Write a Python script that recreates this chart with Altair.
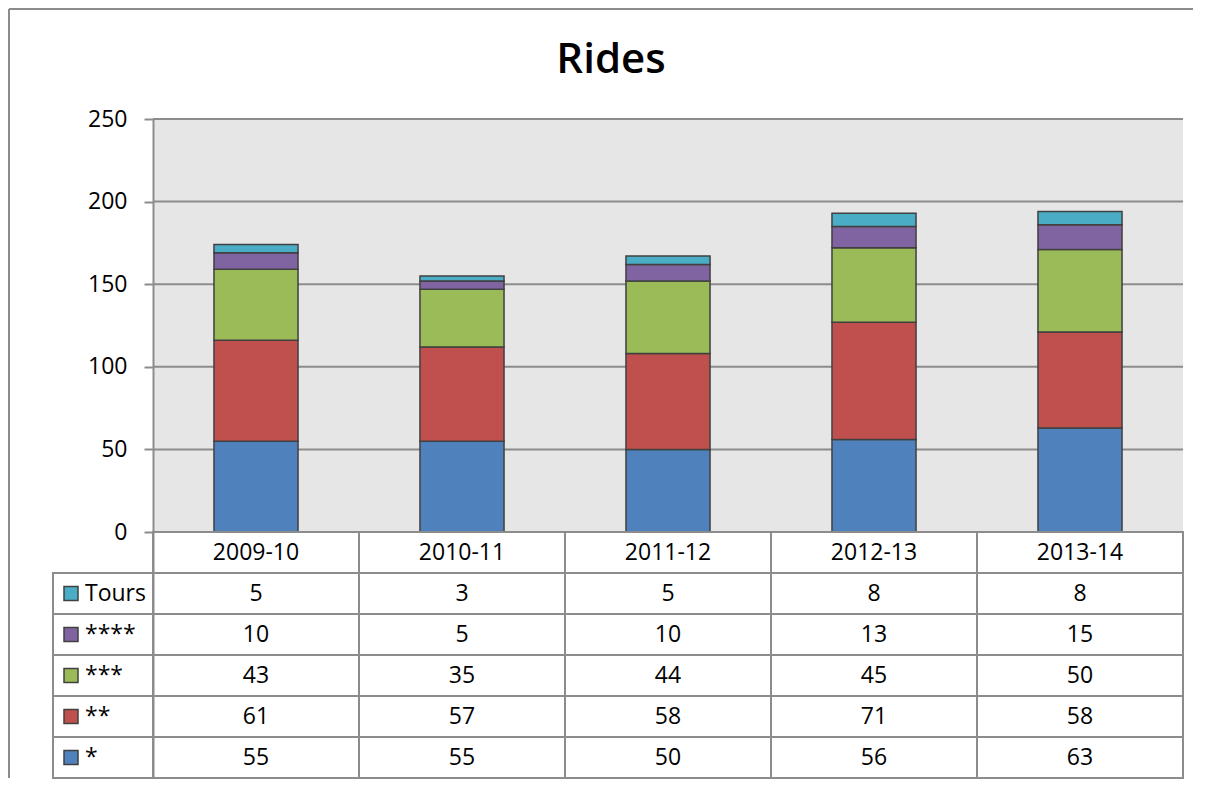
import altair as alt
import pandas as pd

# ---------------- data ----------------
seasons = ["2009-10", "2010-11", "2011-12", "2012-13", "2013-14"]
series = ["*", "**", "***", "****", "Tours"]          # bottom -> top of stack
colors = ["#4F81BD", "#C0504D", "#9BBB59", "#8064A2", "#4BACC6"]
v_star1 = [55, 55, 50, 56, 63]
v_star2 = [61, 57, 58, 71, 58]
v_star3 = [43, 35, 44, 45, 50]
v_star4 = [10, 5, 10, 13, 15]
v_tours = [5, 3, 5, 8, 8]
y_ticks = [0, 50, 100, 150, 200, 250]
title_text = ["Rides"]
values_by_series = [v_star1, v_star2, v_star3, v_star4, v_tours]

# ---------------- geometry (pixels) ----------------
BAND_PX = 206
LEG_PX = 100
W = LEG_PX + BAND_PX * len(seasons)
CHART_PX = 413
ROW_PX = 41
N_ROWS = len(series) + 1
H = CHART_PX + ROW_PX * N_ROWS
YMAX = 250
upp = YMAX / CHART_PX                # data units per pixel (y)
row_u = ROW_PX * upp
y_min = -ROW_PX * N_ROWS * upp
x_min = -0.5 - LEG_PX / BAND_PX
x_max = len(seasons) - 0.5
BAR_HALF = 0.204

FONT = "Open Sans"
GRID = "#8C8C8C"

# ---------------- tables ----------------
rows = []
for si, (s, vals) in enumerate(zip(series, values_by_series)):
    for i, (season, v) in enumerate(zip(seasons, vals)):
        rows.append({"season": season, "idx": i, "series": s, "order": si, "value": v})
df = pd.DataFrame(rows)

xs = alt.Scale(domain=[x_min, x_max], nice=False, zero=False)
ys = alt.Scale(domain=[y_min, YMAX], nice=False, zero=False)
color_scale = alt.Scale(domain=series, range=colors)

# background of the plot area
bg = alt.Chart(pd.DataFrame({"x": [-0.5], "x2": [x_max], "y": [0], "y2": [YMAX]})).mark_rect(
    color="#E6E6E6"
).encode(
    x=alt.X("x:Q", scale=xs, axis=None),
    x2="x2:Q",
    y=alt.Y("y:Q", scale=ys, axis=alt.Axis(
        values=y_ticks, offset=-LEG_PX, grid=False, title=None,
        domainColor=GRID, domainWidth=2, tickColor=GRID, tickWidth=2, tickSize=9,
        labelFont=FONT, labelFontSize=23, labelColor="black", labelPadding=17, zindex=1)),
    y2="y2:Q",
)

grid = alt.Chart(pd.DataFrame({"y": y_ticks})).mark_rule(color=GRID, strokeWidth=2).encode(
    x=alt.datum(-0.5, scale=xs), x2=alt.datum(x_max), y=alt.Y("y:Q", scale=ys)
)

bars = alt.Chart(df).transform_stack(
    stack="value", groupby=["season"], as_=["y0", "y1"], sort=[{"field": "order"}]
).transform_calculate(
    xl=f"datum.idx - {BAR_HALF}", xr=f"datum.idx + {BAR_HALF}"
).mark_rect(stroke="#404040", strokeWidth=1.5).encode(
    x=alt.X("xl:Q", scale=xs),
    x2="xr:Q",
    y=alt.Y("y0:Q", scale=ys),
    y2="y1:Q",
    color=alt.Color("series:N", scale=color_scale, legend=None),
)

# table rows: row 0 = header, rows 1..5 = Tours ... *
table_rows = list(reversed(series))
cells = []
for i, season in enumerate(seasons):
    cells.append({"x": i - 0.5, "x2": i + 0.5, "y": 0, "y2": -row_u,
                  "yc": -0.5 * row_u, "xc": i, "label": season})
    for r, s in enumerate(table_rows, start=1):
        v = values_by_series[series.index(s)][i]
        cells.append({"x": i - 0.5, "x2": i + 0.5, "y": -r * row_u, "y2": -(r + 1) * row_u,
                      "yc": -(r + 0.5) * row_u, "xc": i, "label": str(v)})
cells_df = pd.DataFrame(cells)

leg = []
for r, s in enumerate(table_rows, start=1):
    leg.append({"x": x_min, "x2": -0.5, "y": -r * row_u, "y2": -(r + 1) * row_u,
                "yc": -(r + 0.5) * row_u, "sx": x_min + 18 / BAND_PX,
                "tx": x_min + 32 / BAND_PX, "series": s})
leg_df = pd.DataFrame(leg)

cell_rects = alt.Chart(cells_df).mark_rect(fill="white", stroke=GRID, strokeWidth=2).encode(
    x=alt.X("x:Q", scale=xs), x2="x2:Q", y=alt.Y("y:Q", scale=ys), y2="y2:Q"
)
cell_text = alt.Chart(cells_df).mark_text(
    font=FONT, fontSize=23, color="black", baseline="middle", align="center"
).encode(x=alt.X("xc:Q", scale=xs), y=alt.Y("yc:Q", scale=ys), text="label:N")

leg_rects = alt.Chart(leg_df).mark_rect(fill="white", stroke=GRID, strokeWidth=2).encode(
    x=alt.X("x:Q", scale=xs), x2="x2:Q", y=alt.Y("y:Q", scale=ys), y2="y2:Q"
)
leg_sw = alt.Chart(leg_df).mark_point(
    shape="square", filled=True, size=196, stroke="#404040", strokeWidth=1.5, opacity=1
).encode(
    x=alt.X("sx:Q", scale=xs), y=alt.Y("yc:Q", scale=ys),
    fill=alt.Fill("series:N", scale=color_scale, legend=None),
)
leg_text = alt.Chart(leg_df).mark_text(
    font=FONT, fontSize=23, color="black", baseline="middle", align="left"
).encode(x=alt.X("tx:Q", scale=xs), y=alt.Y("yc:Q", scale=ys), text="series:N")

frame_left = alt.Chart(pd.DataFrame({"a": [0]})).mark_rule(color="#8C8C8C", strokeWidth=2).encode(
    x=alt.value(-44), y=alt.value(-110), y2=alt.value(H)
)
frame_top = alt.Chart(pd.DataFrame({"a": [0]})).mark_rule(color="#8C8C8C", strokeWidth=2).encode(
    x=alt.value(-44), x2=alt.value(1140), y=alt.value(-110)
)

# chart title, centred on the outer frame, baseline 46 px above the plot top
title = alt.Chart(pd.DataFrame({"t": title_text})).mark_text(
    font=FONT, fontSize=42, fontWeight=600, color="black", align="center", baseline="alphabetic"
).encode(x=alt.value(558), y=alt.value(-46), text="t:N")

chart = alt.layer(
    frame_left, frame_top, title, bg, grid, bars, cell_rects, cell_text, leg_rects, leg_sw, leg_text
).properties(
    width=W, height=H, padding=0,
).configure(background="white", view=alt.ViewConfig(stroke=None))

chart.save("out.html", embed_options={"renderer": "svg", "actions": False})
